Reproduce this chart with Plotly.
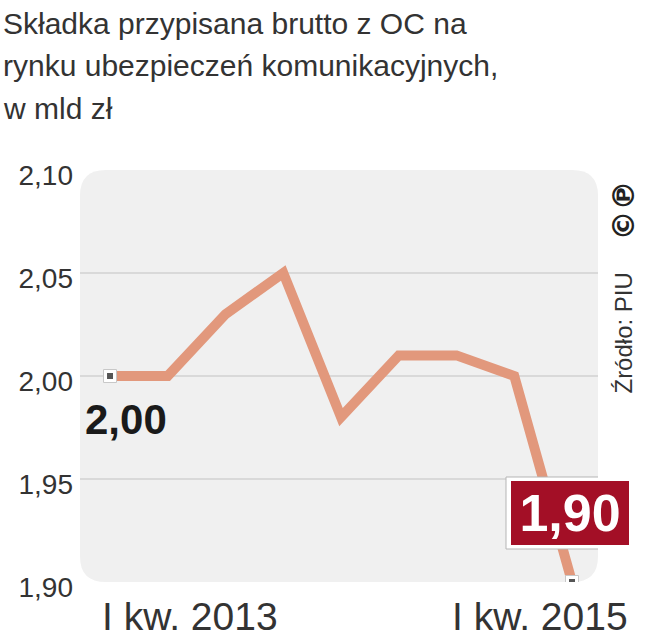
import plotly.graph_objects as go

quarters = ["I kw. 2013", "II kw. 2013", "III kw. 2013", "IV kw. 2013",
            "I kw. 2014", "II kw. 2014", "III kw. 2014", "IV kw. 2014", "I kw. 2015"]
values = [2.00, 2.00, 2.03, 2.05, 1.98, 2.01, 2.01, 2.00, 1.90]
y_ticks = [1.90, 1.95, 2.00, 2.05, 2.10]
y_tick_labels = ["1,90", "1,95", "2,00", "2,05", "2,10"]
grid_values = [1.95, 2.00, 2.05]
title_lines = ["Składka przypisana brutto z OC na",
               "rynku ubezpieczeń komunikacyjnych,",
               "w mld zł"]
source_text = "Źródło: PIU"

def fmt(v):
    return f"{v:.2f}".replace(".", ",")

FONT = "Liberation Sans, Arial, sans-serif"

fig = go.Figure()

fig.add_trace(go.Scatter(
    x=quarters, y=values, mode="lines",
    line=dict(color="#E2987C", width=10),
    hoverinfo="skip", showlegend=False,
))
end_x = [quarters[0], quarters[-1]]
end_y = [values[0], values[-1]]
fig.add_trace(go.Scatter(
    x=end_x, y=end_y, mode="markers",
    marker=dict(symbol="square", size=13, color="white",
                line=dict(color="#C8C8C8", width=1)),
    hoverinfo="skip", showlegend=False,
))
fig.add_trace(go.Scatter(
    x=end_x, y=end_y, mode="markers",
    marker=dict(symbol="square", size=6, color="#555555"),
    hoverinfo="skip", showlegend=False,
))

# rounded background
rx, ry = 0.05, 0.062
path = (f"M {rx},0 L {1-rx},0 Q 1,0 1,{ry} L 1,{1-ry} Q 1,1 {1-rx},1 "
        f"L {rx},1 Q 0,1 0,{1-ry} L 0,{ry} Q 0,0 {rx},0 Z")
fig.add_shape(type="path", path=path, xref="paper", yref="paper",
              fillcolor="#F0F0F0", line=dict(width=0), layer="below")
for g in grid_values:
    fig.add_shape(type="line", xref="paper", yref="y", x0=0, x1=1, y0=g, y1=g,
                  line=dict(color="#D2D2D2", width=1.5), layer="below")

# thin grey outline behind the red value box
fig.add_shape(type="rect", xref="x", yref="y",
              xsizemode="pixel", ysizemode="pixel",
              xanchor=quarters[-1], yanchor=values[-1],
              x0=-66, x1=64, y0=33, y1=105,
              fillcolor="white", line=dict(color="#B5B5B5", width=1), layer="above")

annotations = []
# title lines
for i, t in enumerate(title_lines):
    annotations.append(dict(
        text=t, xref="paper", yref="paper", x=-0.152, y=1.0 + (170 - 23 - 42.5 * i) / 412,
        xanchor="left", yanchor="middle", showarrow=False,
        font=dict(family=FONT, size=30, color="#333333"),
    ))
# x labels
annotations.append(dict(
    text=quarters[0], x=quarters[0], y=1.90, xref="x", yref="y",
    xanchor="left", yanchor="middle", xshift=-10, yshift=-34, showarrow=False,
    font=dict(family=FONT, size=39, color="#333333"),
))
annotations.append(dict(
    text=quarters[-1], x=quarters[-1], y=1.90, xref="x", yref="y",
    xanchor="right", yanchor="middle", xshift=58, yshift=-34, showarrow=False,
    font=dict(family=FONT, size=39, color="#333333"),
))
# value labels
annotations.append(dict(
    text=f"<b>{fmt(values[0])}</b>", x=quarters[0], y=values[0], xref="x", yref="y",
    xanchor="center", yanchor="middle", xshift=16, yshift=-43, showarrow=False,
    font=dict(family=FONT, size=42, color="#1a1a1a"),
))
annotations.append(dict(
    text=f"<b>{fmt(values[-1])}</b>", x=quarters[-1], y=values[-1], xref="x", yref="y",
    xanchor="center", yanchor="middle", xshift=-2, yshift=69, showarrow=False,
    width=114, height=60,
    font=dict(family=FONT, size=52, color="white"),
    bgcolor="#A30F26", bordercolor="white", borderwidth=3, borderpad=2,
))
# source
annotations.append(dict(
    text=source_text, xref="paper", yref="paper", x=1.049, y=0.604,
    xanchor="center", yanchor="middle", textangle=-90, showarrow=False,
    font=dict(family=FONT, size=24, color="#333333"),
))
annotations.append(dict(
    text="<b>©℗</b>", xref="paper", yref="paper", x=1.049, y=(582 - 210) / 412,
    xanchor="center", yanchor="middle", textangle=-90, showarrow=False,
    font=dict(family="DejaVu Sans, Liberation Sans", size=30, color="#222222"),
))

fig.update_layout(
    width=647, height=640,
    margin=dict(l=80, r=49, t=170, b=58),
    paper_bgcolor="white", plot_bgcolor="rgba(0,0,0,0)",
    annotations=annotations,
    xaxis=dict(type="category", range=[-0.52, 8.45], showgrid=False, zeroline=False,
               showticklabels=False, showline=False, ticks=""),
    yaxis=dict(range=[1.90, 2.10], tickvals=y_ticks, ticktext=y_tick_labels,
               showgrid=False, zeroline=False, showline=False, ticks="",
               ticklabelstandoff=6, ticklabelshift=5,
               tickfont=dict(family=FONT, size=28, color="#333333")),
)

fig.write_html("out.html", config={"displayModeBar": False},
               post_script="document.body.style.margin='0px';")
